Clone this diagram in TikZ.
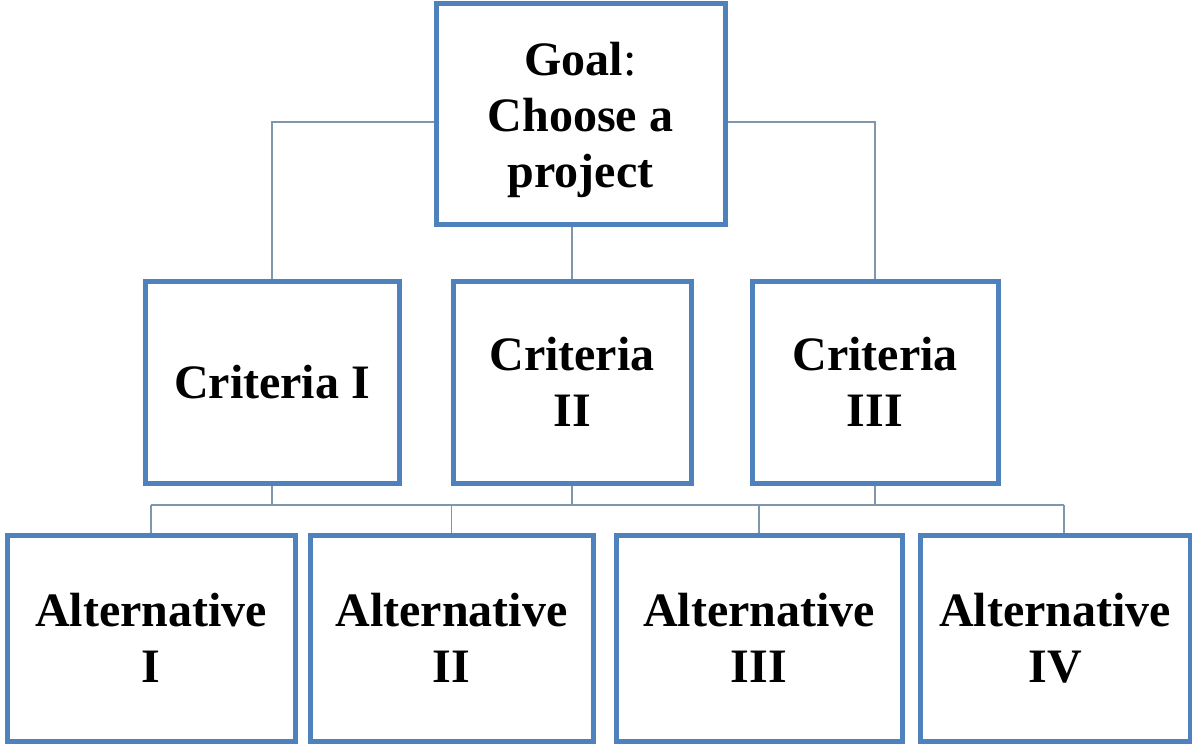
\documentclass[tikz,border=0pt]{standalone}
\usepackage{fontspec}
\setmainfont{Liberation Serif}
\usepackage{tikz}
\usetikzlibrary{calc}
\definecolor{boxblue}{HTML}{4F81BD}
\definecolor{linkgray}{HTML}{8096AC}
\tikzset{
	box/.style={draw=boxblue, line width=2.5pt, fill=white, align=center, inner sep=0pt,
		font=\fontsize{24}{28}\selectfont\bfseries},
	link/.style={draw=linkgray, line width=0.8pt},
}

\begin{document}
\begin{tikzpicture}[x=0.5pt, y=-0.5pt]
	\useasboundingbox (0,0) rectangle (1192,743);
	\coordinate(bus) at (0,505);
	\coordinate(arms) at (0,122);

	\node[box, minimum width=144.5pt, minimum height=110pt, text height=79pt] (goal) at (580.5,114) {Goal{\mdseries:}\\Choose a\\project};

	\node[box, minimum width=127pt, minimum height=101pt] (crit1) at (272,382) {Criteria I};
	\node[box, minimum width=119pt, minimum height=101pt] (crit2) at (572,382) {Criteria\\II};
	\node[box, minimum width=123pt, minimum height=101pt] (crit3) at (875,382) {Criteria\\III};

	\node[box, minimum width=144pt, minimum height=103pt] (alt1) at (151,638) {Alternative\\I};
	\node[box, minimum width=141.5pt, minimum height=103pt] (alt2) at (451.5,638) {Alternative\\II};
	\node[box, minimum width=143pt, minimum height=103pt] (alt3) at (759,638) {Alternative\\III};
	\node[box, minimum width=135pt, minimum height=103pt] (alt4) at (1055,638) {Alternative\\IV};
	\coordinate(drop4) at ($(alt4.north)+(9,0)$);

	\draw[link] (goal.west |- arms) -| (crit1.north);
	\draw[link] (goal.east |- arms) -| (crit3.north);
	\draw[link] (crit2.north |- goal.south) -- (crit2.north);

	\draw[link] (crit1.south) -- (crit1.south |- bus) (crit2.south) -- (crit2.south |- bus) (crit3.south) -- (crit3.south |- bus);
	\draw[link] (alt1.north |- bus) -- (drop4 |- bus);
	\draw[link] (alt1.north |- bus) -- (alt1.north) (alt2.north |- bus) -- (alt2.north);
	\draw[link] (alt3.north |- bus) -- (alt3.north) (drop4 |- bus) -- (drop4);
\end{tikzpicture}
\end{document}
